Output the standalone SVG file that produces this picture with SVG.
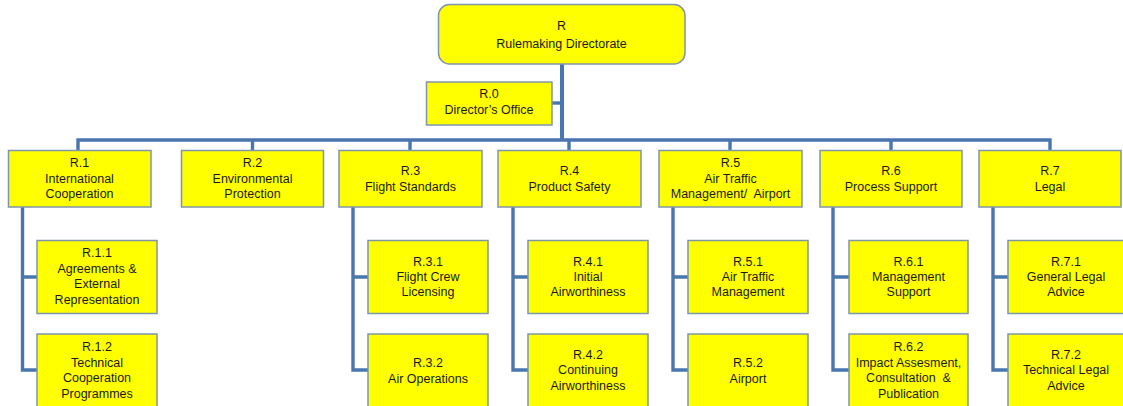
<svg xmlns="http://www.w3.org/2000/svg" width="1123" height="406" viewBox="0 0 1123 406">
  <style>
    .box { fill: #ffff00; stroke: #7f95ad; stroke-width: 1.5; }
    .lbl { font-family: "Liberation Sans", Arial, sans-serif; font-size: 12.5px; fill: #1a1a1a; text-anchor: middle; white-space: pre; }
    .ln { fill: none; stroke: #4a76b0; stroke-width: 3.4; stroke-linejoin: miter; stroke-linecap: butt; }
  </style>
  <rect width="1123" height="406" fill="#ffffff"/>

  <!-- connectors -->
  <g id="connectors">
    <path class="ln" d="M562 64 V140" style="stroke-width:4"/>
    <path class="ln" d="M552 103 H562"/>
    <path class="ln" d="M78 151 V140 H1050 V151"/>
    <path class="ln" d="M252.5 140 V151 M410 140 V151 M569 140 V151 M730 140 V151 M891 140 V151"/>
    <!-- second-level branches -->
    <path class="ln" d="M22.5 207 V370 H37 M22.5 277 H37"/>
    <path class="ln" d="M353 207 V370 H368 M353 277 H368"/>
    <path class="ln" d="M513 207 V370 H528 M513 277 H528"/>
    <path class="ln" d="M673 207 V370 H688 M673 277 H688"/>
    <path class="ln" d="M833 207 V370 H849 M833 277 H849"/>
    <path class="ln" d="M993 207 V370 H1008 M993 277 H1008"/>
  </g>

  <g id="R">
    <rect class="box" x="438.5" y="4.5" width="246.5" height="59.5" rx="11"/>
    <text class="lbl" x="561.5" y="30">R</text>
    <text class="lbl" x="561.5" y="48">Rulemaking Directorate</text>
  </g>
  <g id="R0">
    <rect class="box" x="426.5" y="82" width="125.5" height="43"/>
    <text class="lbl" x="489" y="98">R.0</text>
    <text class="lbl" x="489" y="114">Director’s Office</text>
  </g>

  <!-- first level -->
  <g id="R1">
    <rect class="box" x="8.5" y="150.5" width="142.5" height="56.5"/>
    <text class="lbl" x="79.5" y="167">R.1</text>
    <text class="lbl" x="79.5" y="182.5">International</text>
    <text class="lbl" x="79.5" y="197.5">Cooperation</text>
  </g>
  <g id="R2">
    <rect class="box" x="181.5" y="150.5" width="142" height="56.5"/>
    <text class="lbl" x="252.5" y="167">R.2</text>
    <text class="lbl" x="252.5" y="182.5">Environmental</text>
    <text class="lbl" x="252.5" y="197.5">Protection</text>
  </g>
  <g id="R3">
    <rect class="box" x="339" y="150.5" width="143" height="56.5"/>
    <text class="lbl" x="410.5" y="175">R.3</text>
    <text class="lbl" x="410.5" y="190.5">Flight Standards</text>
  </g>
  <g id="R4">
    <rect class="box" x="498" y="150.5" width="143" height="56.5"/>
    <text class="lbl" x="569.5" y="175">R.4</text>
    <text class="lbl" x="569.5" y="190.5">Product Safety</text>
  </g>
  <g id="R5">
    <rect class="box" x="659" y="150.5" width="143" height="56.5"/>
    <text class="lbl" x="730.5" y="167">R.5</text>
    <text class="lbl" x="730.5" y="182.5">Air Traffic</text>
    <text class="lbl" x="730.5" y="197.5" xml:space="preserve">Management/  Airport</text>
  </g>
  <g id="R6">
    <rect class="box" x="820" y="150.5" width="142" height="56.5"/>
    <text class="lbl" x="891" y="175">R.6</text>
    <text class="lbl" x="891" y="190.5">Process Support</text>
  </g>
  <g id="R7">
    <rect class="box" x="979" y="150.5" width="142" height="56.5"/>
    <text class="lbl" x="1050" y="175">R.7</text>
    <text class="lbl" x="1050" y="190.5">Legal</text>
  </g>

  <!-- second level -->
  <g id="R1-1">
    <rect class="box" x="37" y="240.5" width="120" height="73"/>
    <text class="lbl" x="97" y="257">R.1.1</text>
    <text class="lbl" x="97" y="272.5">Agreements &amp;</text>
    <text class="lbl" x="97" y="287.5">External</text>
    <text class="lbl" x="97" y="303.5">Representation</text>
  </g>
  <g id="R1-2">
    <rect class="box" x="37" y="334" width="120" height="74"/>
    <text class="lbl" x="97" y="351">R.1.2</text>
    <text class="lbl" x="97" y="366.5">Technical</text>
    <text class="lbl" x="97" y="382">Cooperation</text>
    <text class="lbl" x="97" y="397.5">Programmes</text>
  </g>
  <g id="R3-1">
    <rect class="box" x="368" y="240.5" width="120" height="73"/>
    <text class="lbl" x="428" y="265.5">R.3.1</text>
    <text class="lbl" x="428" y="281">Flight Crew</text>
    <text class="lbl" x="428" y="296">Licensing</text>
  </g>
  <g id="R3-2">
    <rect class="box" x="368" y="334" width="120" height="74"/>
    <text class="lbl" x="428" y="367">R.3.2</text>
    <text class="lbl" x="428" y="382.5">Air Operations</text>
  </g>
  <g id="R4-1">
    <rect class="box" x="528" y="240.5" width="120" height="73"/>
    <text class="lbl" x="588" y="265.5">R.4.1</text>
    <text class="lbl" x="588" y="281">Initial</text>
    <text class="lbl" x="588" y="296">Airworthiness</text>
  </g>
  <g id="R4-2">
    <rect class="box" x="528" y="334" width="120" height="74"/>
    <text class="lbl" x="588" y="358.5">R.4.2</text>
    <text class="lbl" x="588" y="374">Continuing</text>
    <text class="lbl" x="588" y="389.5">Airworthiness</text>
  </g>
  <g id="R5-1">
    <rect class="box" x="688" y="240.5" width="120" height="73"/>
    <text class="lbl" x="748" y="265.5">R.5.1</text>
    <text class="lbl" x="748" y="281">Air Traffic</text>
    <text class="lbl" x="748" y="296">Management</text>
  </g>
  <g id="R5-2">
    <rect class="box" x="688" y="334" width="120" height="74"/>
    <text class="lbl" x="748" y="367">R.5.2</text>
    <text class="lbl" x="748" y="382.5">Airport</text>
  </g>
  <g id="R6-1">
    <rect class="box" x="849" y="240.5" width="119" height="73"/>
    <text class="lbl" x="908.5" y="265.5">R.6.1</text>
    <text class="lbl" x="908.5" y="281">Management</text>
    <text class="lbl" x="908.5" y="296">Support</text>
  </g>
  <g id="R6-2">
    <rect class="box" x="849" y="334" width="119" height="74"/>
    <text class="lbl" x="908.5" y="351">R.6.2</text>
    <text class="lbl" x="908.5" y="366.5">Impact Assesment,</text>
    <text class="lbl" x="908.5" y="382" xml:space="preserve">Consultation  &amp;</text>
    <text class="lbl" x="908.5" y="397.5">Publication</text>
  </g>
  <g id="R7-1">
    <rect class="box" x="1008" y="240.5" width="120" height="73"/>
    <text class="lbl" x="1066" y="265.5">R.7.1</text>
    <text class="lbl" x="1066" y="281">General Legal</text>
    <text class="lbl" x="1066" y="296">Advice</text>
  </g>
  <g id="R7-2">
    <rect class="box" x="1008" y="334" width="120" height="74"/>
    <text class="lbl" x="1066" y="358.5">R.7.2</text>
    <text class="lbl" x="1066" y="374">Technical Legal</text>
    <text class="lbl" x="1066" y="389.5">Advice</text>
  </g>
</svg>
